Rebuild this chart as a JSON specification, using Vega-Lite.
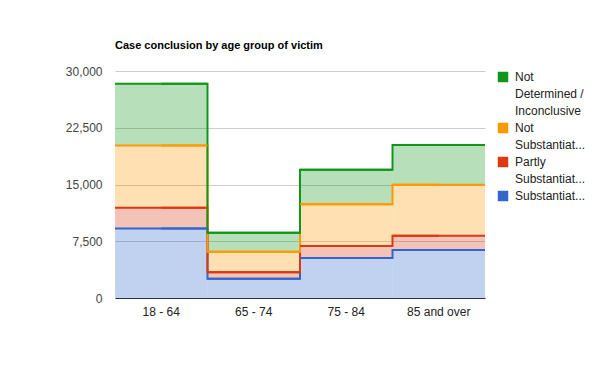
{
  "$schema": "https://vega.github.io/schema/vega-lite/v6.json",
  "width": 370,
  "height": 227,
  "padding": {"left": 55, "top": 40, "right": 5, "bottom": 5},
  "background": "white",
  "title": {
    "text": "Case conclusion by age group of victim",
    "anchor": "start",
    "frame": "group",
    "font": "Liberation Sans",
    "fontSize": 11,
    "fontWeight": "bold",
    "color": "#000000",
    "offset": 14
  },
  "config": {
    "view": {"stroke": null},
    "font": "Liberation Sans",
    "style": {"guide-label": {"lineHeight": 17}}
  },
  "data": {
    "values": [
      {"age": "18 - 64", "conclusion": "Substantiated", "k": 1, "count": 9194},
      {"age": "18 - 64", "conclusion": "Partly Substantiated", "k": 2, "count": 2727},
      {"age": "18 - 64", "conclusion": "Not Substantiated", "k": 3, "count": 8226},
      {"age": "18 - 64", "conclusion": "Not Determined / Inconclusive", "k": 4, "count": 8181},
      {"age": "65 - 74", "conclusion": "Substantiated", "k": 1, "count": 2551},
      {"age": "65 - 74", "conclusion": "Partly Substantiated", "k": 2, "count": 836},
      {"age": "65 - 74", "conclusion": "Not Substantiated", "k": 3, "count": 2727},
      {"age": "65 - 74", "conclusion": "Not Determined / Inconclusive", "k": 4, "count": 2508},
      {"age": "75 - 84", "conclusion": "Substantiated", "k": 1, "count": 5279},
      {"age": "75 - 84", "conclusion": "Partly Substantiated", "k": 2, "count": 1583},
      {"age": "75 - 84", "conclusion": "Not Substantiated", "k": 3, "count": 5543},
      {"age": "75 - 84", "conclusion": "Not Determined / Inconclusive", "k": 4, "count": 4530},
      {"age": "85 and over", "conclusion": "Substantiated", "k": 1, "count": 6334},
      {"age": "85 and over", "conclusion": "Partly Substantiated", "k": 2, "count": 1892},
      {"age": "85 and over", "conclusion": "Not Substantiated", "k": 3, "count": 6730},
      {"age": "85 and over", "conclusion": "Not Determined / Inconclusive", "k": 4, "count": 5279}
    ]
  },
  "transform": [
    {"stack": "count", "groupby": ["age"], "sort": [{"field": "k", "order": "ascending"}], "as": ["y0", "y1"]}
  ],
  "encoding": {
    "x": {
      "field": "age",
      "type": "nominal",
      "sort": ["18 - 64", "65 - 74", "75 - 84", "85 and over"],
      "scale": {"paddingInner": 0, "paddingOuter": 0},
      "axis": {
        "title": null,
        "labelAngle": 0,
        "labelFontSize": 12,
        "labelColor": "#222222",
        "labelPadding": 8,
        "ticks": false,
        "domainColor": "#333333",
        "domainWidth": 1,
        "grid": false
      }
    },
    "color": {
      "field": "conclusion",
      "type": "nominal",
      "scale": {
        "domain": ["Not Determined / Inconclusive", "Not Substantiated", "Partly Substantiated", "Substantiated"],
        "range": ["#109618", "#ff9900", "#dc3912", "#3366cc"]
      },
      "legend": {
        "title": null,
        "orient": "right",
        "offset": 12,
        "symbolType": "square",
        "symbolSize": 110,
        "symbolOpacity": 1,
        "symbolStrokeWidth": 0,
        "labelFontSize": 12,
        "labelColor": "#222222",
        "labelBaseline": "top",
        "labelOffset": 6,
        "rowPadding": 5,
        "labelExpr": "datum.label == 'Not Determined / Inconclusive' ? ['Not', 'Determined /', 'Inconclusive'] : datum.label == 'Not Substantiated' ? ['Not', 'Substantiat...'] : datum.label == 'Partly Substantiated' ? ['Partly', 'Substantiat...'] : 'Substantiat...'",
        "encode": {
          "labels": {"update": {"dy": {"value": -5}}}
        }
      }
    }
  },
  "layer": [
    {
      "mark": {"type": "bar", "opacity": 0.3},
      "encoding": {
        "y": {
          "field": "y1",
          "type": "quantitative",
          "scale": {"domain": [0, 30000]},
          "axis": {
            "title": null,
            "values": [0, 7500, 15000, 22500, 30000],
            "format": ",.0f",
            "labelFontSize": 12,
            "labelColor": "#444444",
            "labelPadding": 13,
            "ticks": false,
            "domain": false,
            "gridColor": "#cccccc",
            "minExtent": 60,
            "maxExtent": 60
          }
        },
        "y2": {"field": "y0"}
      }
    },
    {
      "mark": {"type": "line", "interpolate": "step", "strokeWidth": 2},
      "encoding": {
        "y": {"field": "y1", "type": "quantitative"},
        "order": {"field": "age"}
      }
    },
    {
      "mark": {"type": "tick", "thickness": 2, "size": 92.5, "opacity": 1},
      "encoding": {
        "y": {"field": "y1", "type": "quantitative"}
      }
    }
  ]
}
